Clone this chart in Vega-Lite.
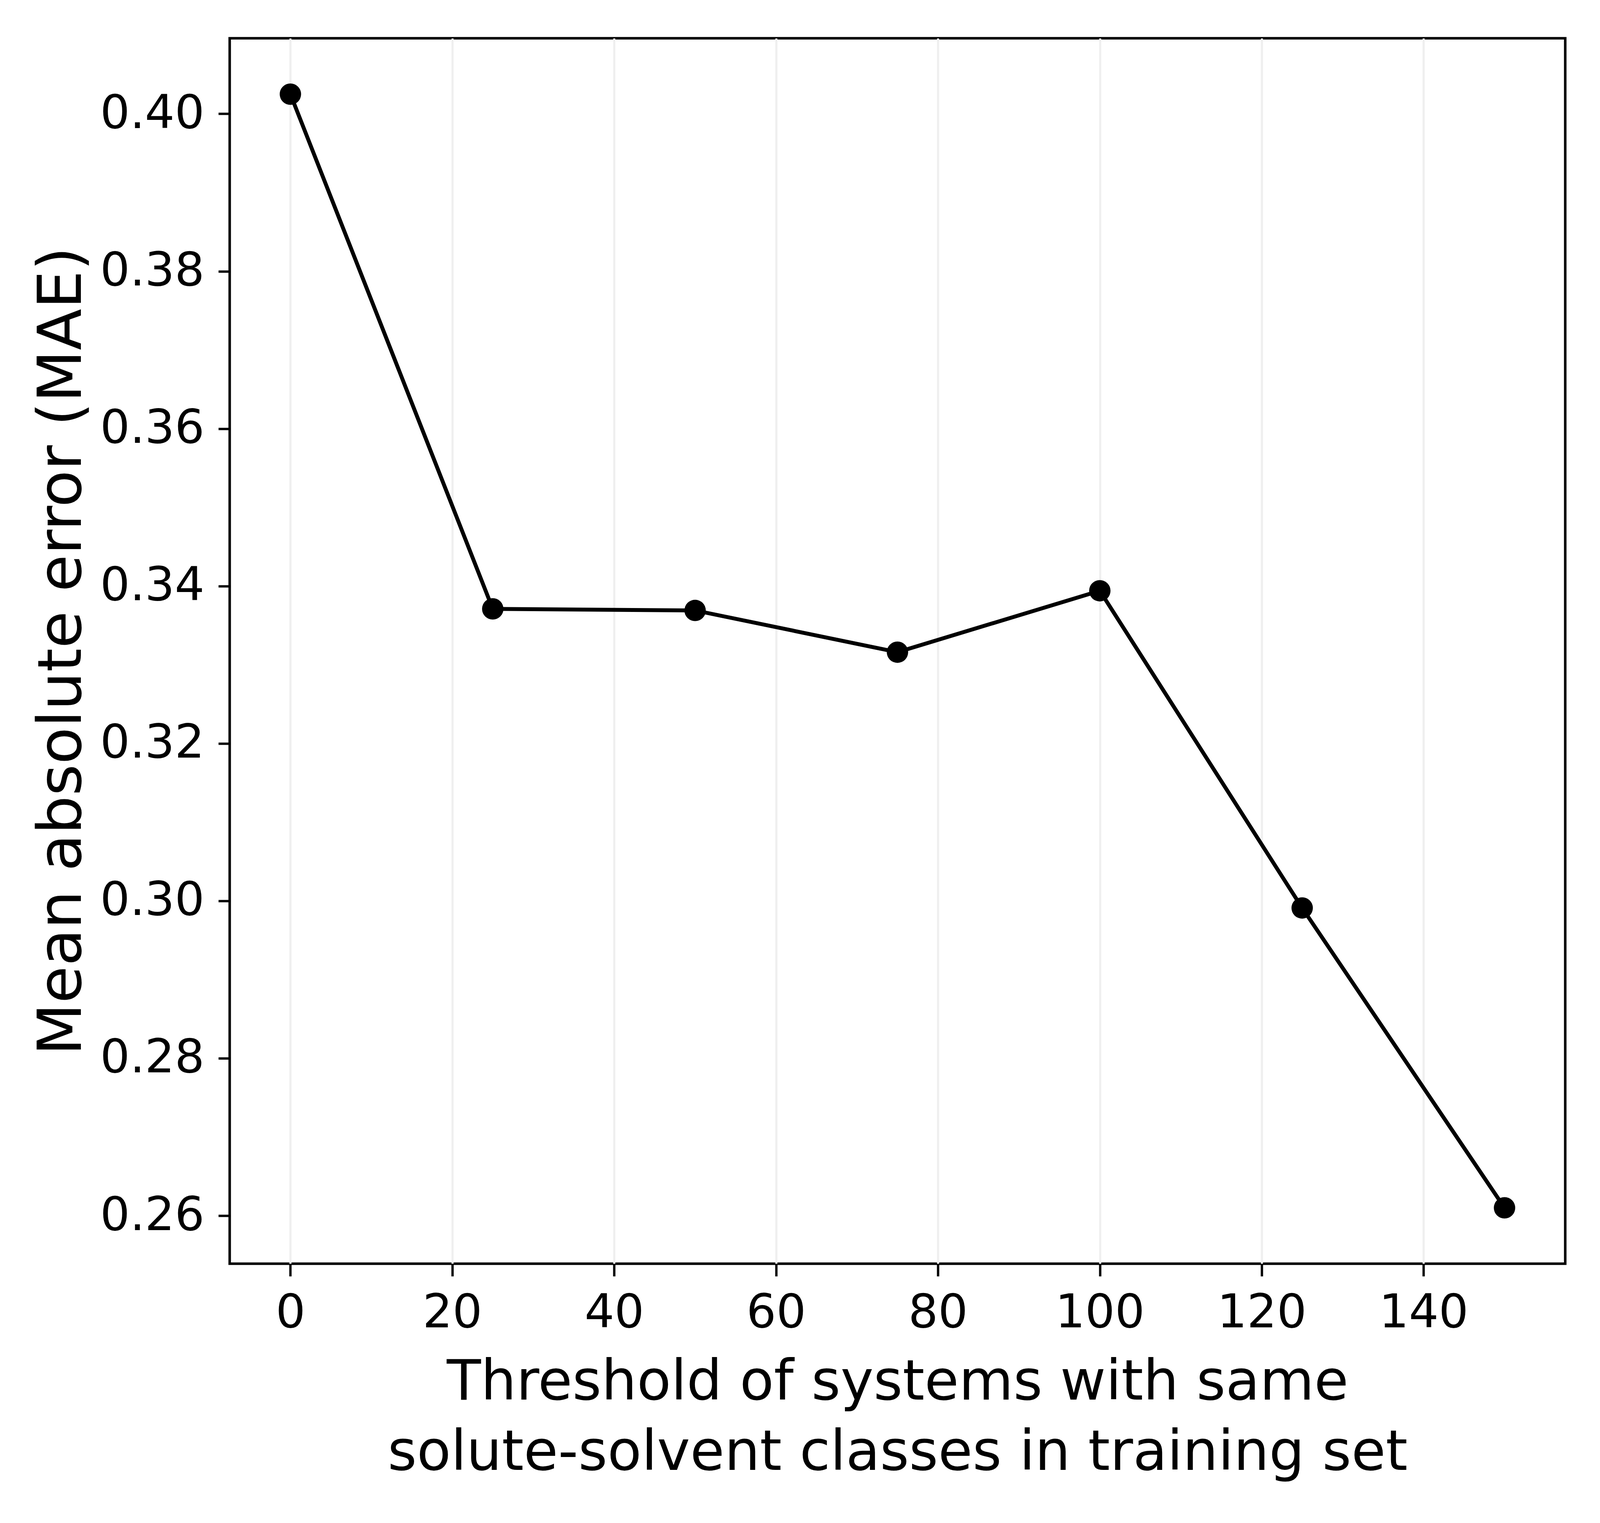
{
  "$schema": "https://vega.github.io/schema/vega-lite/v6.json",
  "autosize": {"type": "none"},
  "width": 3419,
  "height": 3138,
  "padding": {"left": 588, "top": 98, "right": 86, "bottom": 664},
  "background": "white",
  "data": {
    "values": [
      {"threshold": 0, "mae": 0.4025},
      {"threshold": 25, "mae": 0.3371},
      {"threshold": 50, "mae": 0.3369},
      {"threshold": 75, "mae": 0.3316},
      {"threshold": 100, "mae": 0.3394},
      {"threshold": 125, "mae": 0.2991},
      {"threshold": 150, "mae": 0.2610}
    ]
  },
  "encoding": {
    "x": {
      "field": "threshold",
      "type": "quantitative",
      "scale": {"domain": [-7.5, 157.5], "nice": false, "zero": false},
      "axis": {
        "values": [0, 20, 40, 60, 80, 100, 120, 140],
        "grid": true,
        "gridColor": "#efefef",
        "gridWidth": 5.5,
        "tickSize": 32,
        "labelPadding": 35,
        "titlePadding": 48,
        "titleFontSize": 143,
        "title": ["Threshold of systems with same", "solute-solvent classes in training set"],
        "titleLineHeight": 180
      }
    },
    "y": {
      "field": "mae",
      "type": "quantitative",
      "scale": {"domain": [0.2539, 0.4096], "nice": false, "zero": false},
      "axis": {
        "values": [0.26, 0.28, 0.30, 0.32, 0.34, 0.36, 0.38, 0.40],
        "format": ".2f",
        "grid": false,
        "tickSize": 29,
        "labelPadding": 36,
        "titleAngle": -90,
        "titleBaseline": "alphabetic",
        "titleAlign": "center",
        "titleX": -382,
        "titleFontSize": 155,
        "title": "Mean absolute error (MAE)"
      }
    }
  },
  "layer": [
    {
      "mark": {"type": "line", "color": "black", "strokeWidth": 10}
    },
    {
      "mark": {"type": "circle", "color": "black", "opacity": 1, "size": 3000}
    }
  ],
  "config": {
    "view": {"stroke": "black", "strokeWidth": 6.5},
    "axis": {
      "domain": false,
      "ticks": true,
      "tickColor": "black",
      "tickWidth": 6,
      "labelFont": "DejaVu Sans",
      "labelFontSize": 120,
      "labelColor": "black",
      "labelLimit": 2000,
      "titleFont": "DejaVu Sans",
      "titleFontWeight": "normal",
      "titleColor": "black",
      "titleLimit": 5000
    }
  }
}
